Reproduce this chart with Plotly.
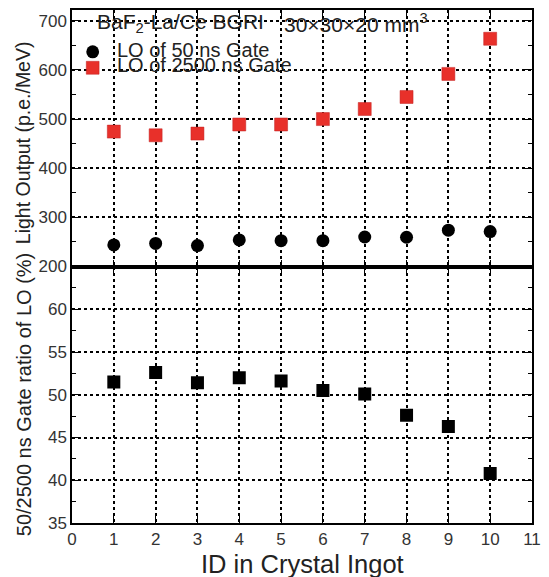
import plotly.graph_objects as go

# ---- data ----
ids = [1, 2, 3, 4, 5, 6, 7, 8, 9, 10]
lo_50ns = [244, 247, 242.5, 254, 252.5, 252.5, 260, 259.5, 274, 271]
lo_2500ns = [474.5, 467, 470.5, 489, 489, 500, 520.5, 545, 592, 663.5]
ratio_pct = [51.5, 52.6, 51.4, 52.0, 51.6, 50.5, 50.1, 47.6, 46.3, 40.8]

x_ticks = list(range(0, 12))
top_ticks = [200, 300, 400, 500, 600, 700]
bottom_ticks = [35, 40, 45, 50, 55, 60]

FONT = "Liberation Sans, Arial, sans-serif"
TXT = "#222222"
W, H = 549, 577
ML, MR, MT, MB = 72, 10, 8, 54


def px_x(p):
    return (p - ML) / (W - ML - MR)


def px_y(p):
    return (H - MB - p) / (H - MT - MB)


fig = go.Figure()

fig.add_trace(go.Scatter(x=ids, y=lo_50ns, mode="markers", xaxis="x2", yaxis="y2",
                         name="LO of 50 ns Gate",
                         marker=dict(symbol="circle", size=13, color="black")))
fig.add_trace(go.Scatter(x=ids, y=lo_2500ns, mode="markers", xaxis="x2", yaxis="y2",
                         name="LO of 2500 ns Gate",
                         marker=dict(symbol="square", size=13, color="#e8302a",
                                     line=dict(color="#c02020", width=0.5))))
fig.add_trace(go.Scatter(x=ids, y=ratio_pct, mode="markers", xaxis="x", yaxis="y",
                         name="ratio",
                         marker=dict(symbol="square", size=13, color="black")))


def axis(**kw):
    d = dict(showline=True, linecolor="black", linewidth=1.5, mirror="allticks",
             ticks="inside", ticklen=7, tickwidth=1.2, tickcolor="black",
             showgrid=True, gridcolor="black", gridwidth=1.5, griddash="dot",
             zeroline=False,
             tickfont=dict(family=FONT, size=17, color="#333333"))
    d.update(kw)
    return d


fig.update_layout(
    width=W, height=H,
    margin=dict(l=ML, r=MR, t=MT, b=MB),
    paper_bgcolor="white", plot_bgcolor="white",
    showlegend=False,
    xaxis=axis(domain=[0, 1], anchor="y", range=[0, 11], tickmode="array", tickvals=x_ticks),
    xaxis2=axis(domain=[0, 1], anchor="y2", range=[0, 11], tickmode="array", tickvals=x_ticks,
                showticklabels=False),
    yaxis=axis(domain=[0, 0.5], anchor="x", range=[35, 65], tickmode="array",
               tickvals=bottom_ticks,
               minor=dict(ticks="inside", ticklen=4, tickcolor="black", dtick=2.5, tick0=35,
                          showgrid=False)),
    yaxis2=axis(domain=[0.5, 1], anchor="x2", range=[200, 722], tickmode="array",
                tickvals=top_ticks,
                minor=dict(ticks="inside", ticklen=4, tickcolor="black", dtick=50, tick0=200,
                           showgrid=False)),
)

annotations = [
    dict(text="BaF<sub>2</sub>-La/Ce BGRI",
         x=px_x(95), y=px_y(21), xref="paper", yref="paper", xanchor="left", yanchor="middle",
         showarrow=False, font=dict(family=FONT, size=21, color=TXT)),
    dict(text="30×30×20 mm<sup>3</sup>",
         x=px_x(285), y=px_y(21), xref="paper", yref="paper", xanchor="left", yanchor="middle",
         showarrow=False, font=dict(family=FONT, size=21, color=TXT)),
    dict(text="LO of 50 ns Gate", x=px_x(116), y=px_y(48), xref="paper", yref="paper",
         xanchor="left", yanchor="middle", showarrow=False,
         font=dict(family=FONT, size=20, color=TXT)),
    dict(text="LO of 2500 ns Gate", x=px_x(116), y=px_y(63), xref="paper", yref="paper",
         xanchor="left", yanchor="middle", showarrow=False,
         font=dict(family=FONT, size=20, color=TXT)),
    dict(text="Light Output (p.e./MeV)", x=px_x(23), y=px_y(141), xref="paper", yref="paper",
         xanchor="center", yanchor="middle", textangle=-90, showarrow=False,
         font=dict(family=FONT, size=19.5, color=TXT)),
    dict(text="50/2500 ns Gate ratio of LO (%)", x=px_x(23), y=px_y(394), xref="paper",
         yref="paper", xanchor="center", yanchor="middle", textangle=-90, showarrow=False,
         font=dict(family=FONT, size=20, color=TXT)),
    dict(text="ID in Crystal Ingot", x=0.5, y=px_y(564), xref="paper", yref="paper",
         xanchor="center", yanchor="middle", showarrow=False,
         font=dict(family=FONT, size=25.5, color=TXT)),
]
fig.update_layout(annotations=annotations)

# legend symbols drawn as shapes
r = 6.5
cx, cy1, cy2 = 93, 50, 66
fig.add_shape(type="circle", xref="paper", yref="paper",
              x0=px_x(cx - r), x1=px_x(cx + r), y0=px_y(cy1 + r), y1=px_y(cy1 - r),
              fillcolor="black", line=dict(color="black", width=0))
fig.add_shape(type="rect", xref="paper", yref="paper",
              x0=px_x(cx - r), x1=px_x(cx + r), y0=px_y(cy2 + r), y1=px_y(cy2 - r),
              fillcolor="#e8302a", line=dict(color="#c02020", width=0.5))

fig.write_html("out.html")
